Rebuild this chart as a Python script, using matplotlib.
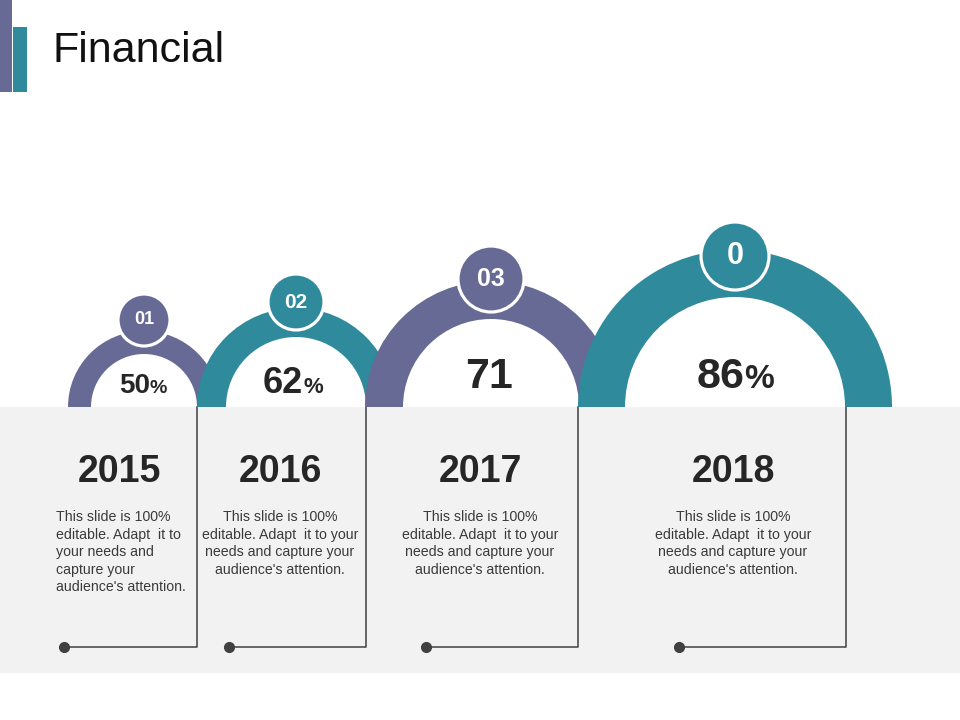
import matplotlib
matplotlib.use("Agg")
import matplotlib.pyplot as plt
from matplotlib.patches import Wedge, Circle, Rectangle

plt.rcParams['font.family'] = ['Liberation Sans', 'DejaVu Sans']

# data
years = ["2015", "2016", "2017", "2018"]
values = [50, 62, 71, 86]
suffixes = ["%", "%", "", "%"]
badges = ["01", "02", "03", "0"]
desc_first = ["This slide is 100%", "editable. Adapt  it to", "your needs and",
              "capture your", "audience's attention."]
desc_rest = ["This slide is 100%", "editable. Adapt  it to your",
             "needs and capture your", "audience's attention."]
descs = [desc_first, desc_rest, desc_rest, desc_rest]

# layout (pixels, y downwards)
PURPLE = "#676a94"
TEAL = "#2f8a9c"
colors = [PURPLE, TEAL, PURPLE, TEAL]
cx = [144, 296, 491, 735]
r_out = [76, 99, 126, 157]
r_in = [53, 70, 88, 110]
badge_y = [320, 302, 279, 256]
badge_r = [26, 28, 33, 34]
badge_fs = [13, 15, 18, 22]
val_fs = [20, 26, 31, 31]
pct_fs = [14, 16, 24, 24]
val_split = [150, 303, 489, 744]
val_base = [393, 393, 388, 388]
year_x = [119, 280, 480, 733]
desc_x = [56, 280, 480, 733]
desc_ha = ["left", "center", "center", "center"]
conn_x = [197, 366, 578, 846]
dot_x = [64, 229, 426, 679]
base_y = 407

fig = plt.figure(figsize=(9.6, 7.2), dpi=100)
ax = fig.add_axes([0, 0, 1, 1])
ax.set_xlim(0, 960)
ax.set_ylim(720, 0)
ax.axis("off")

# title bars and title
ax.add_patch(Rectangle((0, 0), 12, 92, color=PURPLE, lw=0))
ax.add_patch(Rectangle((13, 27), 14, 65, color=TEAL, lw=0))
ax.text(52, 62, "Financial", fontsize=31, color="#111111", va="baseline")

# gray band
ax.add_patch(Rectangle((0, base_y), 960, 673 - base_y, color="#f2f2f2", lw=0, zorder=0))

for i in range(len(values)):
    # half donut
    ax.add_patch(Wedge((cx[i], base_y), r_out[i], 180, 360, width=r_out[i] - r_in[i],
                       color=colors[i], lw=0, zorder=2 + i))
    # badge
    ax.add_patch(Circle((cx[i], badge_y[i]), badge_r[i], facecolor=colors[i],
                        edgecolor="white", lw=2.3, zorder=10))
    ax.text(cx[i], badge_y[i], badges[i], fontsize=badge_fs[i], color="white",
            fontweight="bold", ha="center", va="center", zorder=11)
    # value
    if suffixes[i]:
        ax.text(val_split[i], val_base[i], str(values[i]), fontsize=val_fs[i],
                fontweight="bold", color="#262626", ha="right", va="baseline", zorder=11)
        ax.text(val_split[i], val_base[i], suffixes[i], fontsize=pct_fs[i],
                fontweight="bold", color="#262626", ha="left", va="baseline", zorder=11)
    else:
        ax.text(val_split[i], val_base[i], str(values[i]), fontsize=val_fs[i],
                fontweight="bold", color="#262626", ha="center", va="baseline", zorder=11)
    # year
    ax.text(year_x[i], 482, years[i], fontsize=27, fontweight="bold",
            color="#262626", ha="center", va="baseline")
    # description
    for j, line in enumerate(descs[i]):
        ax.text(desc_x[i], 521 + j * 17.6, line, fontsize=10.2, color="#3a3a3a",
                ha=desc_ha[i], va="baseline")
    # connector
    ax.plot([dot_x[i], conn_x[i], conn_x[i]], [647, 647, base_y], color="#404040", lw=1.1, zorder=1)
    ax.plot(dot_x[i], 647, "o", color="#404040", ms=7, zorder=1)

fig.savefig("out.png", dpi=100)
